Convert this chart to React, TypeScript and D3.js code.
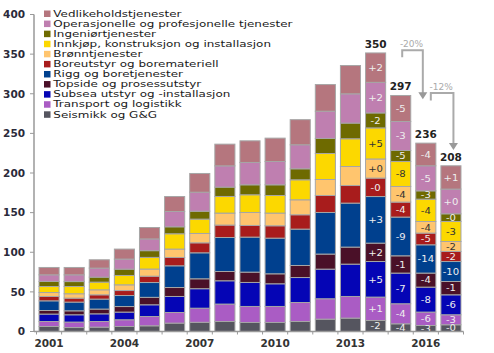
import React from "react";
import * as d3 from "d3";

// categories
const years = ["2001", "2002", "2003", "2004", "2005", "2006", "2007", "2008", "2009", "2010", "2011", "2012", "2013", "2014", "2015", "2016", "2017"];
const yearLabels = ["2001", "2004", "2007", "2010", "2013", "2016"];
const yTicks = [0, 50, 100, 150, 200, 250, 300, 350, 400];

// series, bottom to top
const seriesNames = [
  "Seismikk og G&G",
  "Transport og logistikk",
  "Subsea utstyr og -installasjon",
  "Topside og prosessutstyr",
  "Rigg og boretjenester",
  "Boreutstyr og boremateriell",
  "Brønntjenester",
  "Innkjøp, konstruksjon og installasjon",
  "Ingeniørtjenester",
  "Operasjonelle og profesjonelle tjenester",
  "Vedlikeholdstjenester",
];
const seriesColors = ["#55555f", "#aa5cc4", "#0505b5", "#4a1028", "#00408e", "#a81c1c", "#ffc56e", "#fcd800", "#6e6a00", "#bf7fb0", "#b5767e"];

const seismikk = [6.3, 5, 5.5, 6.3, 7.2, 10.6, 11.6, 12.6, 11.4, 11.4, 12.6, 15.6, 16.9, 13.9, 9.7, 7.6, 8.5];
const transport = [6.3, 6.9, 7.1, 8.5, 11.7, 13.4, 17.8, 22, 20.2, 20.2, 24, 25.7, 27.3, 29.5, 25.3, 16.9, 12.6];
const subsea = [9.4, 9.2, 9.7, 9.7, 14.8, 20.2, 24.6, 29.4, 30.3, 28.6, 31.5, 37.4, 40.8, 44.9, 38.7, 31.5, 25.2];
const topside = [4.5, 5, 6, 7, 9.4, 11.3, 12.5, 11.7, 13, 12.6, 15.2, 19, 21.5, 23.2, 21.8, 17.7, 16.8];
const rigg = [12.2, 11, 12.6, 13.9, 18.7, 27.4, 32.8, 42.9, 44.2, 45, 45.9, 52.5, 55.5, 58.8, 48.9, 35.7, 25.2];
const boreutstyr = [5.5, 5, 5.4, 6.3, 8, 10.5, 12.6, 15.7, 14.7, 15.6, 18.1, 21.4, 22.2, 23.3, 18.9, 14.8, 12.7];
const bronn = [5, 5.5, 6.3, 7.2, 9, 10.6, 11.8, 15.1, 16.4, 16, 18.9, 20.2, 24, 24.1, 19.7, 14.6, 12.6];
const innkjop = [7.6, 9.2, 9.7, 11.8, 14.7, 19.3, 18.1, 21, 22.3, 22.2, 25.2, 32.8, 35, 39.2, 31.5, 28.2, 25.2];
const ingenior = [6.3, 6.2, 6.3, 8, 8.5, 8.8, 10, 11.8, 12.6, 13.5, 13.9, 19, 19.8, 18.9, 13.9, 10.5, 9.7];
const operasjonelle = [8.4, 8.5, 11.4, 12.7, 14.8, 19.3, 24, 26.8, 28.2, 29.4, 30.3, 34.4, 36.9, 38.6, 36.6, 31.6, 31.2];
const vedlikehold = [9.3, 9.3, 10.5, 12.6, 14.4, 18.9, 23.6, 27.4, 27.3, 29.5, 31.7, 33.6, 35.7, 37.1, 32.8, 28.6, 29.4];
const seriesValues = [seismikk, transport, subsea, topside, rigg, boreutstyr, bronn, innkjop, ingenior, operasjonelle, vedlikehold];

// annotations
const totalYears = ["2014", "2015", "2016", "2017"];
const totalLabels = ["350", "297", "236", "208"];
const changes2014 = ["-2", "+1", "+5", "+2", "+3", "-0", "+0", "+5", "-2", "+2", "+2"];
const changes2015 = ["-4", "-4", "-7", "-1", "-9", "-4", "-4", "-8", "-5", "-3", "-5"];
const changes2016 = ["-3", "-6", "-8", "-4", "-14", "-5", "-4", "-4", "-3", "-5", "-4"];
const changes2017 = ["-0", "-3", "-6", "-1", "-10", "-2", "-2", "-3", "-0", "+0", "+1"];
const changeLabels = [changes2014, changes2015, changes2016, changes2017];
const darkTextSeries = ["Brønntjenester", "Innkjøp, konstruksjon og installasjon"];

const pctLabels = ["-20%", "-12%"];
const pctFrom = ["2015", "2016"];
const pctTo = ["2016", "2017"];
const pctTop = [355, 301];
const pctLeftEnd = [346, 291.5];
const pctTip = [293, 229];

const W = 494;
const H = 353;
const font = "'DejaVu Sans', Verdana, sans-serif";

export default function App() {
  const x = d3.scaleBand<string>().domain(years).range([36.5, 463.5]).paddingInner(0.2).paddingOuter(0.1);
  const y = d3.scaleLinear().domain([0, 400]).range([331.5, 14.5]);
  const bw = x.bandwidth();
  const cx = (yr: string) => (x(yr) as number) + bw / 2;

  const table = years.map((yr, i) => {
    const row: any = { year: yr };
    seriesNames.forEach((n, j) => (row[n] = seriesValues[j][i]));
    return row;
  });
  const stacked = d3.stack<any>().keys(seriesNames)(table);

  const step = x.step();
  const xTicks = d3.range(years.length + 1).map((i) => 36.5 + i * step);

  return (
    <svg width={W} height={H} style={{ position: "absolute", left: 0, top: 0, background: "#fff" }} fontFamily={font}>
      {/* bars */}
      {stacked.map((layer, j) => (
        <g key={layer.key} fill={seriesColors[j]}>
          {layer.map((d, i) => (
            <rect
              key={years[i]}
              x={x(years[i])}
              y={y(d[1])}
              width={bw}
              height={y(d[0]) - y(d[1])}
              stroke="#a6a6a6"
              strokeWidth={1}
            />
          ))}
        </g>
      ))}

      {/* change labels */}
      {totalYears.map((yr, k) => {
        const i = years.indexOf(yr);
        return (
          <g key={yr}>
            {stacked.map((layer, j) => {
              const d = layer[i];
              const dark = darkTextSeries.includes(layer.key);
              return (
                <text
                  key={layer.key}
                  x={0}
                  y={0}
                  dy="0.36em"
                  textAnchor="middle"
                  fontSize={9}
                  fill={dark ? "#333" : "#eeeeee"}
                  transform={`translate(${cx(yr)},${(y(d[0]) + y(d[1])) / 2}) scale(1.12,1)`}
                >
                  {changeLabels[k][j]}
                </text>
              );
            })}
            <text
              x={cx(yr)}
              y={y(stacked[stacked.length - 1][i][1]) - 5}
              textAnchor="middle"
              fontSize={10.5}
              fontWeight="bold"
              fill="#222"
            >
              {totalLabels[k]}
            </text>
          </g>
        );
      })}

      {/* percentage brackets */}
      {pctLabels.map((lab, k) => {
        const x1 = k === 0 ? cx(pctFrom[k]) + 1.5 : cx(pctFrom[k]) + 5;
        const x2 = k === 0 ? cx(pctTo[k]) - 3 : cx(pctTo[k]) + 2.5;
        const yt = y(pctTop[k]);
        const tip = y(pctTip[k]);
        return (
          <g key={lab}>
            <path
              d={`M${x1},${y(pctLeftEnd[k])}V${yt}H${x2}V${tip - 6}`}
              fill="none"
              stroke="#aaaaaa"
              strokeWidth={2}
            />
            <path d={`M${x2 - 4.5},${tip - 7}L${x2 + 4.5},${tip - 7}L${x2},${tip}Z`} fill="#999" />
            <text x={(x1 + x2) / 2 - 1} y={yt - 3} textAnchor="middle" fontSize={9} fill="#aaaaaa">
              {lab}
            </text>
          </g>
        );
      })}

      {/* y axis */}
      <line x1={34} x2={34} y1={y(400)} y2={y(0)} stroke="#999" strokeWidth={1.5} />
      {yTicks.map((t) => (
        <g key={t}>
          <line x1={30} x2={34} y1={y(t)} y2={y(t)} stroke="#999" strokeWidth={1} />
          <text x={25} y={y(t)} dy="0.36em" textAnchor="end" fontSize={10.5} fontWeight="bold" fill="#2a2a3a">
            {t}
          </text>
        </g>
      ))}

      {/* x axis */}
      <line x1={34} x2={463.5} y1={y(0)} y2={y(0)} stroke="#999" strokeWidth={1.5} />
      {xTicks.map((t, i) => (
        <line key={i} x1={t} x2={t} y1={y(0)} y2={y(0) + 3} stroke="#999" strokeWidth={1} />
      ))}
      {yearLabels.map((yr) => (
        <text key={yr} x={cx(yr)} y={347} textAnchor="middle" fontSize={10.5} fontWeight="bold" fill="#333">
          {yr}
        </text>
      ))}

      {/* legend */}
      {seriesNames
        .slice()
        .reverse()
        .map((n, k) => {
          const j = seriesNames.length - 1 - k;
          const cy = 13.5 + k * 10.08;
          return (
            <g key={n}>
              <rect x={44} y={cy - 3} width={6.5} height={6.5} fill={seriesColors[j]} />
              <text
                x={0}
                y={0}
                dy="0.36em"
                fontSize={9}
                fill="#1a1a1a"
                transform={`translate(53.3,${cy}) scale(1.33,1)`}
              >
                {n}
              </text>
            </g>
          );
        })}
    </svg>
  );
}
